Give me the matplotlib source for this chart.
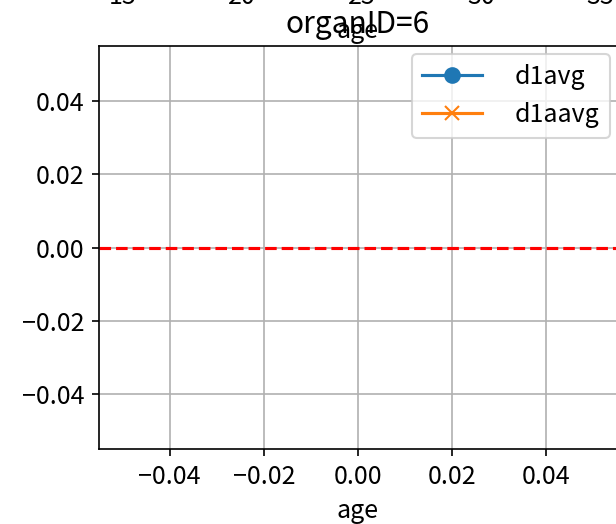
import matplotlib
matplotlib.use('Agg')
import matplotlib.pyplot as plt

plt.rcParams['font.family'] = ['Noto Sans CJK SC', 'DejaVu Sans']
plt.rcParams['axes.unicode_minus'] = True
plt.rcParams['font.size'] = 12

# organID=6 has no rows, so both series are empty
age = []
d1avg = []
d1aavg = []

# tick labels of the panel above, which is cut off by the crop
upper_ticks = [15, 20, 25, 30, 35]
upper_xlim = (14, 35.7)

DPI = 150
fig = plt.figure(figsize=(616 / DPI, 524 / DPI), dpi=DPI)

# panel above: only its tick labels and xlabel peek into the picture
ax_up = fig.add_axes([99 / 616, 1 + 31 / 524, 518 / 616, 0.5])
ax_up.set_xlim(upper_xlim)
ax_up.set_xticks(upper_ticks)
ax_up.set_yticks([])
ax_up.set_xlabel('age')

ax = fig.add_axes([99 / 616, 75 / 524, 518 / 616, 403 / 524])
ax.plot(age, d1avg, marker='o', markersize=7, label='d1avg')
ax.plot(age, d1aavg, marker='x', markersize=7, label='d1aavg')
ax.axhline(0, color='red', linestyle='--')
ax.set_xlim(-0.055, 0.055)
ax.set_ylim(-0.055, 0.055)
ax.set_title('organID=6')
ax.set_xlabel('age')
ax.grid(True)
ax.legend(loc='upper right', handlelength=2.4, handletextpad=1.3,
          borderaxespad=0.3)

fig.savefig('out.png', dpi=DPI)
